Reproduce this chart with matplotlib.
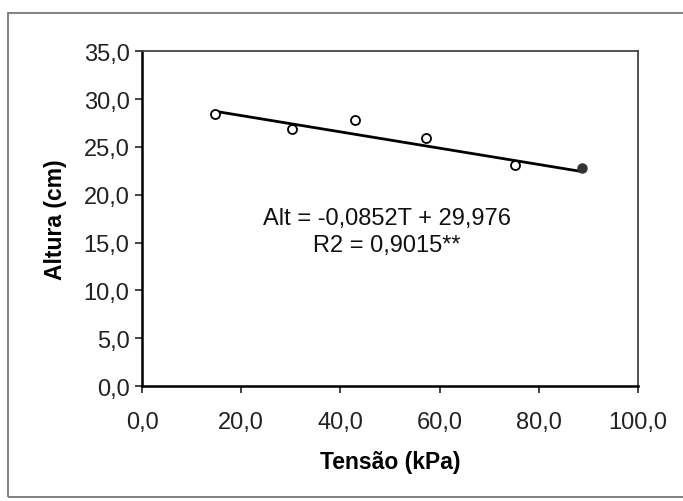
import numpy as np
import matplotlib.pyplot as plt
from matplotlib.patches import Rectangle

plt.rcParams['font.family'] = ['Liberation Sans', 'DejaVu Sans']

tensao = [14.7, 30.2, 42.9, 57.3, 75.2, 88.7]
altura = [28.4, 26.9, 27.8, 25.9, 23.1, 22.8]
slope, intercept = -0.0852, 29.976
xticks = [0, 20, 40, 60, 80, 100]
yticks = [0, 5, 10, 15, 20, 25, 30, 35]

fig = plt.figure(figsize=(6.83, 5.02), dpi=100)
fig.patch.set_facecolor('white')
# outer chart frame
fig.patches.append(Rectangle((8 / 683, 4 / 502), 1.2, (488 - 4) / 502, transform=fig.transFigure,
                             fill=False, edgecolor='#777777', linewidth=1.3))

ax = fig.add_axes([0.208, 0.229, 0.726, 0.667])

t_fit = np.array([tensao[0], tensao[-1]])
ax.plot(t_fit, slope * t_fit + intercept, color='black', linewidth=2.0, zorder=2)
ax.plot(tensao[:-1], altura[:-1], 'o', markersize=6.5, markerfacecolor='white',
        markeredgecolor='black', markeredgewidth=1.3, zorder=3)
ax.plot(tensao[-1:], altura[-1:], 'o', markersize=6.5, markerfacecolor='#333333',
        markeredgecolor='#333333', zorder=3)

ax.set_xlim(0, 100)
ax.set_ylim(0, 35)
ax.set_xticks(xticks)
ax.set_yticks(yticks)
ax.set_xticklabels([f"{v:.1f}".replace('.', ',') for v in xticks], fontsize=17)
ax.set_yticklabels([f"{v:.1f}".replace('.', ',') for v in yticks], fontsize=17)
ax.tick_params(direction='out', length=5, width=1.2, pad=4, colors='#222222')
ax.tick_params(axis='x', pad=13)

for s in ['left', 'bottom']:
    ax.spines[s].set_linewidth(1.8)
    ax.spines[s].set_color('black')
for s in ['top', 'right']:
    ax.spines[s].set_linewidth(1.3)
    ax.spines[s].set_color('#444444')

ax.set_xlabel('Tensão (kPa)', fontsize=16.5, fontweight='bold', labelpad=12)
ax.set_ylabel('Altura (cm)', fontsize=16.5, fontweight='bold', labelpad=12)

ax.text(49.4, 16.2, "Alt = -0,0852T + 29,976\nR2 = 0,9015**", ha='center', va='center',
        fontsize=17, linespacing=1.3, color='#111111')

fig.savefig('out.png', dpi=100, facecolor='white')
